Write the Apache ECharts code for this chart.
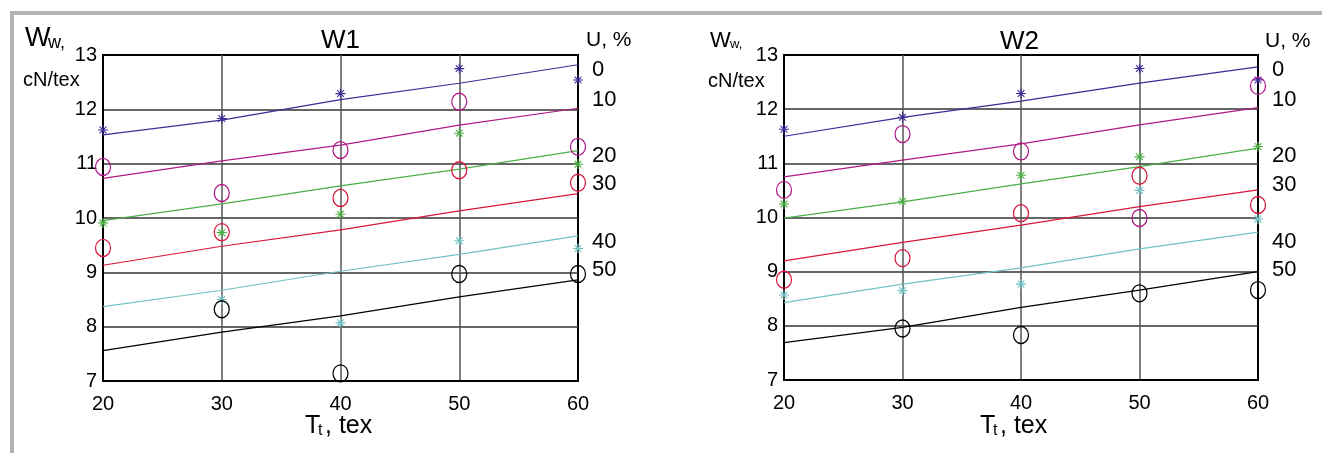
<!DOCTYPE html>
<html>
<head>
<meta charset="utf-8">
<script src="https://cdn.jsdelivr.net/npm/echarts@6/dist/echarts.min.js"></script>
<style>
html,body{margin:0;padding:0;background:#fff;}
#c{width:1322px;height:453px;}
</style>
</head>
<body>
<div id="c"></div>
<script>
// ---- data ----
var tex = [20, 30, 40, 50, 60];
var uLabels = ['0', '10', '20', '30', '40', '50'];
var yTicks = [7, 8, 9, 10, 11, 12, 13];
var xTicks = [20, 30, 40, 50, 60];

// W1: fitted lines
var w1Fit0  = [11.53, 11.80, 12.18, 12.48, 12.82];
var w1Fit10 = [10.73, 11.05, 11.34, 11.71, 12.02];
var w1Fit20 = [9.95, 10.26, 10.59, 10.90, 11.24];
var w1Fit30 = [9.13, 9.48, 9.78, 10.13, 10.45];
var w1Fit40 = [8.37, 8.67, 9.02, 9.33, 9.67];
var w1Fit50 = [7.56, 7.90, 8.20, 8.55, 8.86];
// W1: measured points
var w1Pt0  = [11.62, 11.83, 12.29, 12.75, 12.54];
var w1Pt10 = [10.94, 10.46, 11.25, 12.14, 11.31];
var w1Pt20 = [9.91, 9.73, 10.07, 11.56, 10.99];
var w1Pt30 = [9.45, 9.74, 10.37, 10.88, 10.65];
var w1Pt40 = [null, 8.50, 8.07, 9.58, 9.44];
var w1Pt50 = [null, 8.32, 7.14, 8.97, 8.97];

// W2: fitted lines
var w2Fit0  = [11.50, 11.85, 12.15, 12.48, 12.78];
var w2Fit10 = [10.75, 11.06, 11.36, 11.71, 12.03];
var w2Fit20 = [9.99, 10.29, 10.62, 10.94, 11.28];
var w2Fit30 = [9.20, 9.54, 9.86, 10.20, 10.51];
var w2Fit40 = [8.43, 8.77, 9.07, 9.42, 9.73];
var w2Fit50 = [7.69, 7.97, 8.34, 8.66, 9.00];
// W2: measured points
var w2Pt0  = [11.63, 11.85, 12.29, 12.75, 12.54];
var w2Pt10 = [10.51, 11.54, 11.22, 9.99, 12.43];
var w2Pt20 = [10.25, 10.30, 10.78, 11.12, 11.31];
var w2Pt30 = [8.85, 9.25, 10.08, 10.77, 10.23];
var w2Pt40 = [8.57, 8.65, 8.77, 10.50, 9.97];
var w2Pt50 = [null, 7.95, 7.83, 8.60, 8.66];

// ---- styling ----
var colors = ['#3d2c97', '#b01a88', '#4caf45', '#d8173e', '#72c2c2', '#000000'];
var markers = ['star', 'circle', 'star', 'circle', 'star', 'circle'];
var FONT = "'Liberation Sans', Arial, sans-serif";
var starPath = 'path://M0,5L10,5M5,0L5,10M1.6,1.6L8.4,8.4M1.6,8.4L8.4,1.6';

var fits = [[w1Fit0, w1Fit10, w1Fit20, w1Fit30, w1Fit40, w1Fit50],
            [w2Fit0, w2Fit10, w2Fit20, w2Fit30, w2Fit40, w2Fit50]];
var pts  = [[w1Pt0, w1Pt10, w1Pt20, w1Pt30, w1Pt40, w1Pt50],
            [w2Pt0, w2Pt10, w2Pt20, w2Pt30, w2Pt40, w2Pt50]];

function pairs(arr) {
  var out = [];
  for (var i = 0; i < tex.length; i++) {
    if (arr[i] !== null) out.push([tex[i], arr[i]]);
  }
  return out;
}

var series = [];
for (var g = 0; g < 2; g++) {
  for (var k = 0; k < 6; k++) {
    series.push({
      type: 'line', xAxisIndex: g, yAxisIndex: g, data: pairs(fits[g][k]),
      symbol: 'none', silent: true, z: 3,
      lineStyle: {color: colors[k], width: 1.2}
    });
  }
  for (var k2 = 0; k2 < 6; k2++) {
    var isStar = markers[k2] === 'star';
    series.push({
      type: 'scatter', xAxisIndex: g, yAxisIndex: g, data: pairs(pts[g][k2]),
      symbol: isStar ? starPath : 'circle',
      symbolSize: isStar ? 10 : [15, 17],
      silent: true, z: 4, clip: false,
      itemStyle: isStar ? {color: colors[k2], borderColor: colors[k2], borderWidth: 1.1, opacity: 1}
                        : {color: 'rgba(0,0,0,0)', borderColor: colors[k2], borderWidth: 1.3, opacity: 1}
    });
  }
}

function xAxisCfg(idx) {
  return {
    type: 'value', gridIndex: idx, min: 20, max: 60, interval: 10,
    axisLine: {show: true, onZero: false, lineStyle: {color: '#000', width: 2}},
    axisTick: {show: false},
    axisLabel: {color: '#000', fontSize: 20, fontFamily: FONT, margin: 13},
    splitLine: {show: true, showMinLine: false, showMaxLine: false, lineStyle: {color: '#555', width: 1.5}}
  };
}
function yAxisCfg(idx) {
  return {
    type: 'value', gridIndex: idx, min: 7, max: 13, interval: 1,
    axisLine: {show: true, onZero: false, lineStyle: {color: '#000', width: 2}},
    axisTick: {show: false},
    axisLabel: {color: '#000', fontSize: 20, fontFamily: FONT, margin: 6},
    splitLine: {show: true, showMinLine: false, showMaxLine: false, lineStyle: {color: '#333', width: 1.5}}
  };
}

function txt(text, x, y, size) {
  return {type: 'text', silent: true, z: 10, x: x, y: y,
    style: {text: text, font: size + 'px ' + FONT, fill: '#000', align: 'left', verticalAlign: 'middle'}};
}

var graphics = [
  {type: 'rect', silent: true, z: 0, shape: {x: 10, y: 11, width: 1312, height: 4}, style: {fill: '#b3b3b3'}},
  {type: 'rect', silent: true, z: 0, shape: {x: 10, y: 11, width: 4, height: 442}, style: {fill: '#b3b3b3'}},
  // left chart
  txt('W', 25, 38.5, 27), txt('w,', 48, 43, 18), txt('cN/tex', 23, 80, 20),
  txt('W1', 321, 40.5, 26), txt('U, %', 586, 40.5, 21),
  txt('T', 305, 426, 25), txt('t', 318, 431, 16), txt(', tex', 325, 426, 25),
  // right chart
  txt('W', 710, 41, 22), txt('w,', 730, 44, 13), txt('cN/tex', 708, 81, 20),
  txt('W2', 1000, 42, 26), txt('U, %', 1265, 41, 21),
  txt('T', 980, 426, 25), txt('t', 993, 431, 16), txt(', tex', 1000, 426, 25)
];
var uY1 = [69.6, 99.6, 155.6, 183.6, 242.2, 270.2];
var uY2 = [69.6, 99.6, 156.2, 184.6, 241.9, 269.6];
for (var u = 0; u < uLabels.length; u++) {
  graphics.push(txt(uLabels[u], 592, uY1[u], 22));
  graphics.push(txt(uLabels[u], 1272, uY2[u], 22));
}

var chart = echarts.init(document.getElementById('c'), null, {renderer: 'canvas'});
chart.setOption({
  animation: false,
  backgroundColor: '#fff',
  grid: [
    {left: 103, top: 55, width: 475, height: 326, show: true, borderColor: '#000', borderWidth: 2, backgroundColor: 'transparent'},
    {left: 784, top: 55, width: 474, height: 325, show: true, borderColor: '#000', borderWidth: 2, backgroundColor: 'transparent'}
  ],
  xAxis: [xAxisCfg(0), xAxisCfg(1)],
  yAxis: [yAxisCfg(0), yAxisCfg(1)],
  series: series,
  graphic: graphics
});
</script>
</body>
</html>
